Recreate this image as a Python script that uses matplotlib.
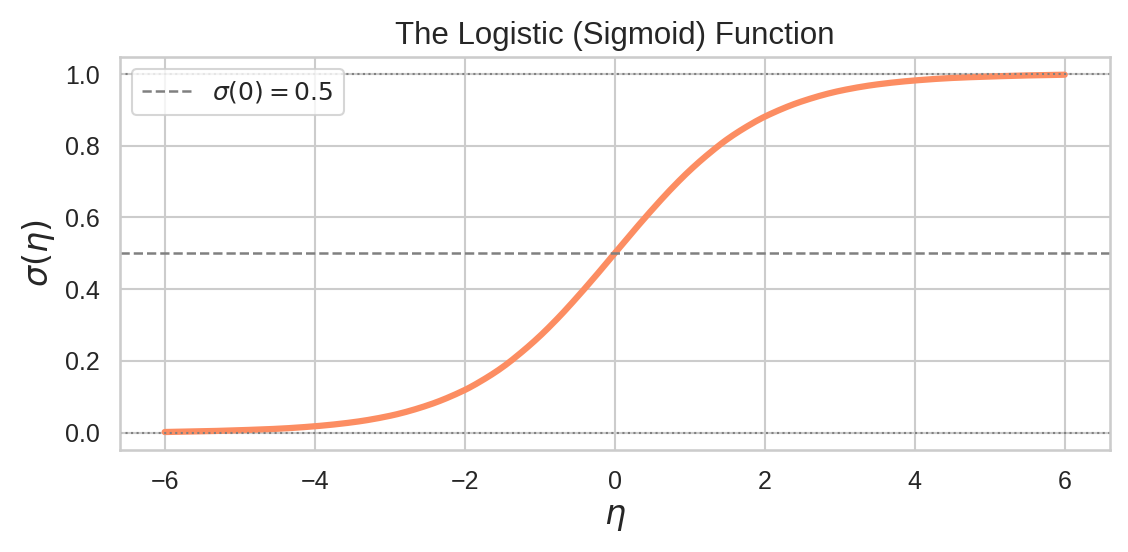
import matplotlib
matplotlib.use("Agg")
import matplotlib.pyplot as plt
import seaborn as sns
import numpy as np

eta = [-6.0, -5.5, -5.0, -4.5, -4.0, -3.5, -3.0, -2.5, -2.0, -1.75, -1.5, -1.25, -1.0, -0.75, -0.5, -0.25,
       0.0, 0.25, 0.5, 0.75, 1.0, 1.25, 1.5, 1.75, 2.0, 2.5, 3.0, 3.5, 4.0, 4.5, 5.0, 5.5, 6.0]
sigma = [0.002, 0.004, 0.007, 0.011, 0.018, 0.029, 0.047, 0.076, 0.119, 0.148, 0.182, 0.223, 0.269,
         0.321, 0.378, 0.438, 0.500, 0.562, 0.622, 0.679, 0.731, 0.777, 0.818, 0.852, 0.881, 0.924,
         0.953, 0.971, 0.982, 0.989, 0.993, 0.996, 0.998]
ref_levels = [0.0, 1.0]
half = 0.5
legend_label = r"$\sigma(0) = 0.5$"

sns.set_theme(style="whitegrid")
plt.rcParams['font.family'] = ['Liberation Sans', 'DejaVu Sans']

# smooth display of read points via monotone PCHIP sampling
def pchip(x, y, xs):
    x = np.asarray(x); y = np.asarray(y)
    h = np.diff(x); d = np.diff(y) / h
    m = np.zeros_like(y)
    for k in range(1, len(x) - 1):
        if d[k-1] * d[k] > 0:
            w1 = 2*h[k] + h[k-1]; w2 = h[k] + 2*h[k-1]
            m[k] = (w1 + w2) / (w1/d[k-1] + w2/d[k])
    m[0] = d[0]; m[-1] = d[-1]
    idx = np.clip(np.searchsorted(x, xs) - 1, 0, len(x) - 2)
    t = (xs - x[idx]) / h[idx]
    h00 = 2*t**3 - 3*t**2 + 1; h10 = t**3 - 2*t**2 + t
    h01 = -2*t**3 + 3*t**2; h11 = t**3 - t**2
    return h00*y[idx] + h10*h[idx]*m[idx] + h01*y[idx+1] + h11*h[idx]*m[idx+1]

xs = np.linspace(eta[0], eta[-1], 400)
ys = pchip(eta, sigma, xs)

fig, ax = plt.subplots(figsize=(7.526, 3.68), dpi=150)
fig.subplots_adjust(left=0.106, right=0.983, top=0.897, bottom=0.185)
ax.plot(xs, ys, color="#fc8d62", linewidth=3)
ax.axhline(half, color="gray", linestyle="--", linewidth=1.2, label=legend_label)
for lv in ref_levels:
    ax.axhline(lv, color="gray", linestyle=":", linewidth=1)
ax.set_title("The Logistic (Sigmoid) Function", fontsize=15)
ax.set_xlabel(r"$\eta$", fontsize=16)
ax.set_ylabel(r"$\sigma(\eta)$", fontsize=16)
ax.tick_params(labelsize=12)
ax.legend(loc="upper left", fontsize=12)
fig.savefig("out.png", dpi=150)
